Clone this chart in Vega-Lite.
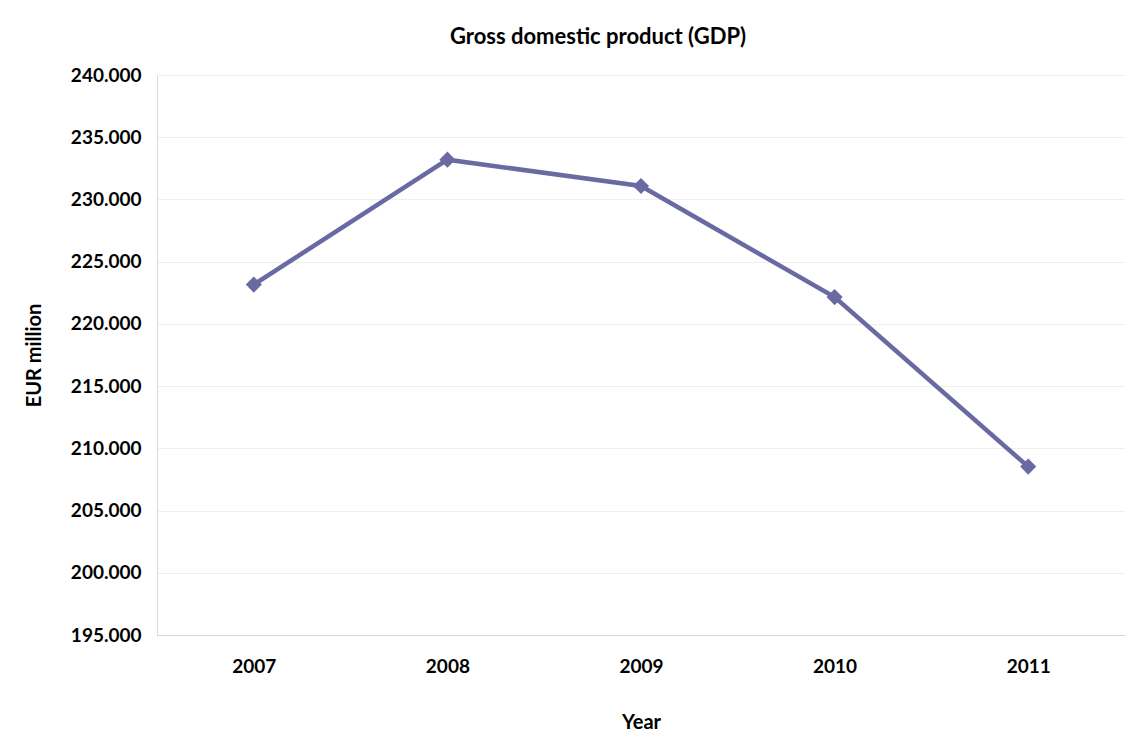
{
  "$schema": "https://vega.github.io/schema/vega-lite/v6.json",
  "autosize": "none",
  "width": 968,
  "height": 560,
  "padding": {"left": 157, "top": 75, "right": 13, "bottom": 111},
  "background": "white",
  "title": {
    "text": "Gross domestic product (GDP)",
    "font": "Lato",
    "fontSize": 22,
    "fontWeight": "bold",
    "color": "#000000",
    "anchor": "middle",
    "dx": -43,
    "offset": 17
  },
  "data": {
    "values": [
      {"Year": "2007", "GDP": 223160},
      {"Year": "2008", "GDP": 233198},
      {"Year": "2009", "GDP": 231081},
      {"Year": "2010", "GDP": 222151},
      {"Year": "2011", "GDP": 208532}
    ]
  },
  "config": {
    "view": {"stroke": null},
    "axis": {
      "labelFont": "Lato",
      "titleFont": "Lato",
      "labelFontSize": 19,
      "titleFontSize": 20,
      "labelFontWeight": "bold",
      "titleFontWeight": "bold",
      "labelColor": "#000000",
      "titleColor": "#000000",
      "ticks": false,
      "domainColor": "#D9D9D9",
      "gridColor": "#EFEFEF"
    }
  },
  "mark": {"type": "line", "color": "#6A6AA3", "strokeWidth": 4.5, "point": {"shape": "diamond", "size": 260, "color": "#6A6AA3", "filled": true, "opacity": 1}},
  "encoding": {
    "x": {
      "field": "Year",
      "type": "ordinal",
      "scale": {"type": "point", "padding": 0.5},
      "axis": {"title": "Year", "labelAngle": 0, "labelPadding": 22, "titlePadding": 36, "grid": false}
    },
    "y": {
      "field": "GDP",
      "type": "quantitative",
      "scale": {"domain": [195000, 240000], "nice": false, "zero": false},
      "axis": {
        "title": "EUR million",
        "values": [195000, 200000, 205000, 210000, 215000, 220000, 225000, 230000, 235000, 240000],
        "labelExpr": "replace(format(datum.value, ','), ',', '.')",
        "labelPadding": 16,
        "titlePadding": 26,
        "grid": true
      }
    }
  }
}
